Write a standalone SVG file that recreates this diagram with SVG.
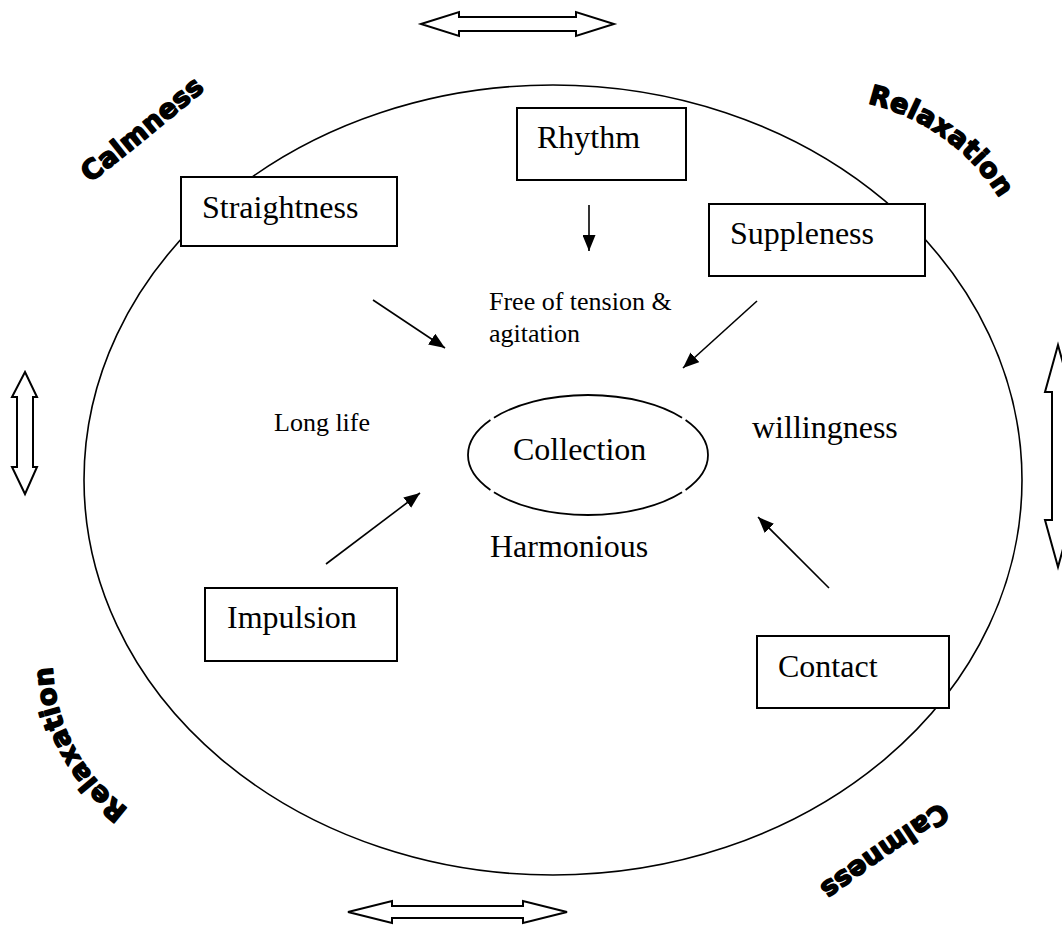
<svg xmlns="http://www.w3.org/2000/svg" width="1062" height="926" viewBox="0 0 1062 926">
<style>
.box{fill:#fff;stroke:#000;stroke-width:2}
.lbl{font-family:"Liberation Serif","Times New Roman",serif;font-size:32px;fill:#000}
.sm{font-family:"Liberation Serif","Times New Roman",serif;font-size:26px;fill:#000}
.con{stroke:#000;stroke-width:1.6;fill:none}
.dbl{fill:#fff;stroke:#000;stroke-width:2;stroke-linejoin:miter}
.wa{font-family:"DejaVu Sans","Liberation Sans",sans-serif;font-weight:bold;font-size:27px;fill:#000;stroke:#000;stroke-width:1.6;stroke-linejoin:round;letter-spacing:0.5px}
</style>
<defs>
<marker id="ah" markerUnits="userSpaceOnUse" viewBox="0 0 16 13" refX="16" refY="6.5" markerWidth="16" markerHeight="13" orient="auto">
<path d="M0,0 L16,6.5 L0,13 Z" fill="#000"/>
</marker>
<path id="p-calm1" d="M 90 183 Q 148 138 214 82"/>
<path id="p-relax1" d="M 867.5 103.4 A 211 211 0 0 1 1008 213.2"/>
<path id="p-relax2" d="M 128.3 808.9 A 184 184 0 0 1 52.5 656.8"/>
<path id="p-calm2" d="M 941 802 Q 878 842 810 893"/>
</defs>

<g id="outer-ellipse">
<ellipse cx="553" cy="480" rx="469" ry="395" fill="none" stroke="#000" stroke-width="1.6"/>
</g>

<g id="double-arrows">
<polygon id="arrow-top" class="dbl" points="421,24 459,12 459,17 576,17 576,12 614,24 576,36 576,31 459,31 459,36"/>
<polygon id="arrow-bottom" class="dbl" points="348,912 392,901 392,906 523,906 523,901 567,912 523,923 523,918 392,918 392,923"/>
<polygon id="arrow-left" class="dbl" points="25,372 37,397 33,397 33,467 37,467 25,494 12,467 17,467 17,397 12,397"/>
<polygon id="arrow-right" class="dbl" points="1058,345 1071,392 1065,392 1065,520 1071,520 1058,567 1045,520 1052,520 1052,392 1045,392"/>
</g>

<g id="wordart">
<text class="wa"><textPath href="#p-calm1">Calmness</textPath></text>
<text class="wa"><textPath href="#p-relax1">Relaxation</textPath></text>
<text class="wa"><textPath href="#p-relax2">Relaxation</textPath></text>
<text class="wa"><textPath href="#p-calm2">Calmness</textPath></text>
</g>

<g id="connectors">
<line class="con" x1="589" y1="205" x2="589" y2="251" marker-end="url(#ah)"/>
<line class="con" x1="373" y1="300" x2="445" y2="348" marker-end="url(#ah)"/>
<line class="con" x1="757" y1="301" x2="683" y2="368" marker-end="url(#ah)"/>
<line class="con" x1="326" y1="564" x2="420" y2="493" marker-end="url(#ah)"/>
<line class="con" x1="829" y1="588" x2="758" y2="517" marker-end="url(#ah)"/>
</g>

<g id="rhythm">
<rect class="box" x="517" y="108" width="169" height="72"/>
<text class="lbl" x="537" y="148">Rhythm</text>
</g>
<g id="straightness">
<rect class="box" x="181" y="177" width="216" height="69"/>
<text class="lbl" x="202" y="218">Straightness</text>
</g>
<g id="suppleness">
<rect class="box" x="709" y="204" width="216" height="72"/>
<text class="lbl" x="730" y="244">Suppleness</text>
</g>
<g id="impulsion">
<rect class="box" x="205" y="588" width="192" height="73"/>
<text class="lbl" x="227" y="628">Impulsion</text>
</g>
<g id="contact">
<rect class="box" x="757" y="636" width="192" height="72"/>
<text class="lbl" x="778" y="677">Contact</text>
</g>

<g id="collection">
<path fill="none" stroke="#000" stroke-width="1.8" d="M 493.96 417.73 A 120 60 0 0 1 682.04 417.73 M 685.57 420.07 A 120 60 0 0 1 685.57 489.93 M 682.04 492.27 A 120 60 0 0 1 493.96 492.27 M 490.43 489.93 A 120 60 0 0 1 490.43 420.07"/>
<text class="lbl" x="513" y="460">Collection</text>
</g>

<g id="labels">
<text class="sm" x="489" y="310">Free of tension &amp;</text>
<text class="sm" x="489" y="342">agitation</text>
<text class="sm" x="274" y="431">Long life</text>
<text class="lbl" x="752" y="438">willingness</text>
<text class="lbl" x="490" y="557">Harmonious</text>
</g>
</svg>
